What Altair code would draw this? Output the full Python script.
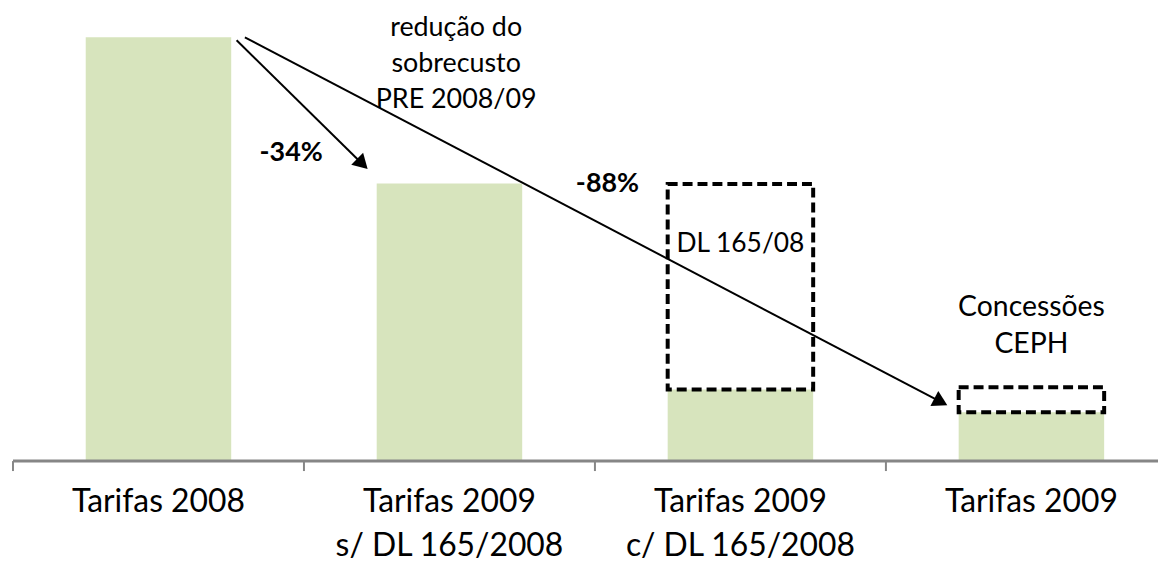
import math
import altair as alt
import pandas as pd

# ---------------- data (index: Tarifas 2008 = 100) ----------------
cat_line1 = ["Tarifas 2008", "Tarifas 2009", "Tarifas 2009", "Tarifas 2009"]
cat_line2 = ["", "s/ DL 165/2008", "c/ DL 165/2008", ""]
values = [100.0, 65.5, 16.9, 11.5]
dl_box = [16.9, 65.4]      # DL 165/08 (dashed box on 3rd bar)
ceph_box = [11.5, 17.4]    # Concessões CEPH (dashed box on 4th bar)

# ---------------- layout ----------------
PAD_L, PAD_B = 5, 104
W, H = 1151, 454
PXX = 292.5                 # px per category
XMAX = W / PXX
PXY = 4.26                  # px per index point
YMAX = H / PXY

xs = alt.Scale(domain=[0, XMAX], nice=False, zero=False)
ys = alt.Scale(domain=[0, YMAX], nice=False, zero=False)


def X(f):
    return alt.X(f, type="quantitative", scale=xs, axis=None)


def Y(f):
    return alt.Y(f, type="quantitative", scale=ys, axis=None)


bars = pd.DataFrame({
    "i": list(range(4)),
    "x0": [i + 0.25 for i in range(4)],
    "x1": [i + 0.75 for i in range(4)],
    "v": values,
})

bar_layer = alt.Chart(bars).mark_rect(color="#d7e4bd").encode(
    x=X("x0"), x2="x1", y=Y("v"), y2=alt.datum(0)
)

boxes = pd.DataFrame({
    "x0": [2.25, 3.25], "x1": [2.75, 3.75],
    "y0": [dl_box[0], ceph_box[0]], "y1": [dl_box[1], ceph_box[1]],
})
box_layer = alt.Chart(boxes).mark_rect(
    fillOpacity=0, stroke="black", strokeWidth=4, strokeDash=[10, 5]
).encode(x=X("x0"), x2="x1", y=Y("y0"), y2="y1")

# axis line + ticks
axis_df = pd.DataFrame({"x0": [0.0], "x1": [XMAX], "y": [0.0]})
axis_layer = alt.Chart(axis_df).mark_rule(color="#868686", strokeWidth=3).encode(
    x=X("x0"), x2="x1", y=Y("y")
)
ticks_df = pd.DataFrame({"x": [0, 1, 2, 3], "y0": [0.0] * 4, "y1": [-10 / PXY] * 4})
ticks_layer = alt.Chart(ticks_df).mark_rule(color="#868686", strokeWidth=2).encode(
    x=X("x"), y=Y("y0"), y2="y1"
)

# category labels
lab_rows = []
for i in range(4):
    lab_rows.append({"x": i + 0.5, "y": -12.0, "t": cat_line1[i]})
    if cat_line2[i]:
        lab_rows.append({"x": i + 0.5, "y": -22.5, "t": cat_line2[i]})
lab_layer = alt.Chart(pd.DataFrame(lab_rows)).mark_text(
    font="Lato", fontSize=32, color="black", align="center", baseline="alphabetic"
).encode(x=X("x"), y=Y("y"), text="t:N")

# arrows (start/tip in data units)
arrows = [
    (0.7685, 99.3, 1.2188, 68.9),
    (0.797, 100.0, 3.211, 13.15),
]
HEAD_W = 17
HEAD_C = 0.866 * HEAD_W / 2
seg_rows, head_rows = [], []
for k, (x0, y0, x1, y1) in enumerate(arrows):
    dxs = (x1 - x0) * PXX
    dys = -(y1 - y0) * PXY
    L = math.hypot(dxs, dys)
    ux, uy = dxs / L, dys / L
    cx = x1 - ux * HEAD_C / PXX
    cy = y1 + uy * HEAD_C / PXY
    ang = math.degrees(math.atan2(ux, -uy)) % 360
    seg_rows.append({"a": k, "x0": x0, "y0": y0, "x1": cx, "y1": cy})
    head_rows.append({"x": cx, "y": cy, "ang": ang})

seg_layer = alt.Chart(pd.DataFrame(seg_rows)).mark_rule(
    color="black", strokeWidth=2
).encode(x=X("x0"), y=Y("y0"), x2="x1", y2="y1")
head_layer = alt.Chart(pd.DataFrame(head_rows)).mark_point(
    shape="triangle-up", filled=True, size=HEAD_W * HEAD_W, color="black", opacity=1
).encode(x=X("x"), y=Y("y"), angle=alt.Angle("ang:Q", scale=None))

# annotation texts
ann = pd.DataFrame([
    {"x": 1.523, "y": 100.2, "t": "redução do", "s": 27},
    {"x": 1.523, "y": 91.8, "t": "sobrecusto", "s": 27},
    {"x": 1.523, "y": 83.3, "t": "PRE 2008/09", "s": 27},
    {"x": 2.5, "y": 49.3, "t": "DL 165/08", "s": 26.5},
    {"x": 3.5, "y": 34.2, "t": "Concessões", "s": 28.5},
    {"x": 3.5, "y": 25.6, "t": "CEPH", "s": 28.5},
])
ann_layer = alt.Chart(ann).mark_text(
    font="Lato", color="black", align="center", baseline="alphabetic"
).encode(x=X("x"), y=Y("y"), text="t:N", size=alt.Size("s:Q", scale=None, legend=None))

pct = pd.DataFrame([
    {"x": 0.956, "y": 70.9, "t": "-34%"},
    {"x": 2.043, "y": 63.4, "t": "-88%"},
])
pct_layer = alt.Chart(pct).mark_text(
    font="Lato", fontSize=27, fontWeight="bold", color="black",
    align="center", baseline="alphabetic"
).encode(x=X("x"), y=Y("y"), text="t:N")

chart = alt.layer(
    bar_layer, box_layer, axis_layer, ticks_layer, seg_layer, head_layer,
    lab_layer, ann_layer, pct_layer
).properties(
    width=W, height=H,
    autosize=alt.AutoSizeParams(type="none"),
    padding={"left": PAD_L, "top": 0, "right": 0, "bottom": PAD_B},
    background="white",
).configure_view(stroke=None)

chart.save("out.html", embed_options={"renderer": "svg", "actions": False})
